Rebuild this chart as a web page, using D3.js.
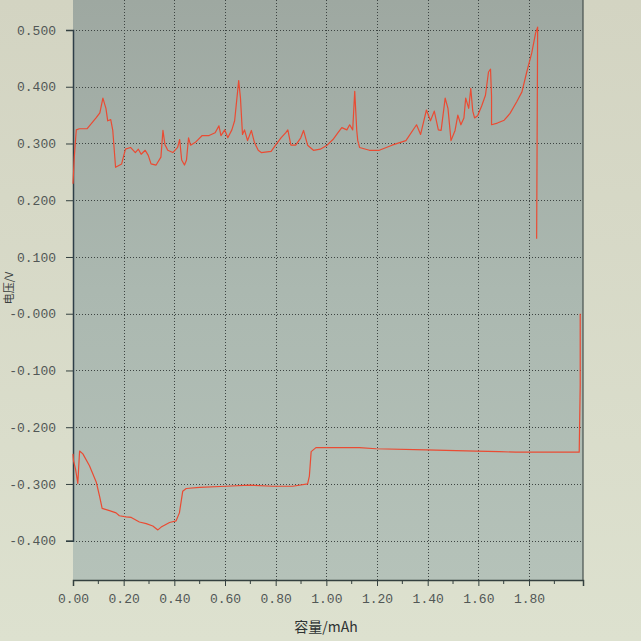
<!DOCTYPE html>
<html><head><meta charset="utf-8">
<script src="https://cdn.jsdelivr.net/npm/d3@7/dist/d3.min.js"></script>
<style>html,body{margin:0;padding:0;background:#d9dbc9;}svg{display:block;}</style>
</head><body>
<script>
// ---- data (capacity mAh, voltage V) ----
const chargeCap = [0.000,0.005,0.013,0.025,0.056,0.091,0.106,0.118,0.130,0.137,0.149,0.157,0.168,0.192,0.207,0.227,0.246,0.258,0.269,0.285,0.297,0.308,0.328,0.347,0.355,0.363,0.374,0.394,0.413,0.421,0.429,0.440,0.448,0.456,0.464,0.483,0.510,0.537,0.561,0.576,0.584,0.599,0.611,0.627,0.638,0.654,0.661,0.669,0.677,0.689,0.704,0.716,0.731,0.743,0.782,0.801,0.821,0.840,0.848,0.860,0.879,0.899,0.910,0.926,0.949,0.976,1.003,1.026,1.046,1.061,1.081,1.092,1.104,1.112,1.120,1.124,1.131,1.170,1.209,1.259,1.314,1.356,1.372,1.395,1.411,1.426,1.442,1.453,1.469,1.480,1.492,1.508,1.519,1.531,1.543,1.550,1.562,1.570,1.578,1.585,1.597,1.613,1.628,1.640,1.648,1.652,1.652,1.675,1.702,1.725,1.752,1.772,1.791,1.811,1.826,1.834,1.830];
const chargeVolt = [0.229,0.276,0.324,0.326,0.326,0.345,0.354,0.380,0.362,0.340,0.342,0.323,0.258,0.264,0.290,0.293,0.284,0.290,0.281,0.288,0.279,0.264,0.262,0.276,0.323,0.298,0.288,0.284,0.293,0.307,0.271,0.262,0.271,0.310,0.297,0.302,0.314,0.314,0.319,0.331,0.314,0.324,0.310,0.324,0.340,0.411,0.380,0.316,0.324,0.305,0.323,0.302,0.288,0.284,0.286,0.298,0.310,0.319,0.324,0.297,0.297,0.310,0.323,0.297,0.288,0.290,0.297,0.307,0.319,0.328,0.324,0.333,0.324,0.392,0.323,0.305,0.293,0.288,0.288,0.297,0.305,0.333,0.316,0.359,0.340,0.357,0.324,0.323,0.380,0.362,0.305,0.323,0.350,0.333,0.345,0.380,0.362,0.397,0.357,0.345,0.349,0.366,0.385,0.426,0.431,0.383,0.333,0.336,0.341,0.353,0.374,0.391,0.426,0.460,0.495,0.505,0.132];
const dischargeCap = [0.000,0.002,0.010,0.019,0.026,0.039,0.065,0.092,0.105,0.115,0.144,0.170,0.183,0.210,0.230,0.262,0.289,0.315,0.335,0.348,0.381,0.407,0.420,0.433,0.447,0.499,0.604,0.696,0.788,0.867,0.926,0.933,0.940,0.959,0.999,1.130,1.196,1.393,1.591,1.682,1.748,1.998,2.002,2.002];
const dischargeVolt = [-0.247,-0.259,-0.274,-0.299,-0.242,-0.247,-0.268,-0.297,-0.322,-0.343,-0.347,-0.351,-0.356,-0.358,-0.359,-0.367,-0.370,-0.374,-0.381,-0.376,-0.368,-0.365,-0.351,-0.313,-0.308,-0.306,-0.304,-0.302,-0.304,-0.304,-0.300,-0.286,-0.243,-0.236,-0.236,-0.236,-0.238,-0.240,-0.242,-0.243,-0.244,-0.244,-0.126,0.000];
const xTicks = [0,0.2,0.4,0.6,0.8,1.0,1.2,1.4,1.6,1.8];
const xTickLabels = ["0.00","0.20","0.40","0.60","0.80","1.00","1.20","1.40","1.60","1.80"];
const xMinorTicks = [0.1,0.3,0.5,0.7,0.9,1.1,1.3,1.5,1.7,1.9];
const yTicks = [0.5,0.4,0.3,0.2,0.1,0,-0.1,-0.2,-0.3,-0.4];
const yTickLabels = ["0.500","0.400","0.300","0.200","0.100","-0.000","-0.100","-0.200","-0.300","-0.400"];
const xTitle = "容量/mAh";
const yTitle = "电压/V";

const W = 641, H = 641;
const L = 73, R = 583, T = 0, B = 580;
const x = d3.scaleLinear().domain([0, 2.013]).range([L, R]);
const y = d3.scaleLinear().domain([-0.4, 0.5]).range([540.7, 30]);

const svg = d3.select("body").append("svg").attr("width", W).attr("height", H);
const defs = svg.append("defs");
const gOut = defs.append("linearGradient").attr("id","gout").attr("x1",0).attr("y1",0).attr("x2",0).attr("y2",1);
gOut.append("stop").attr("offset","0%").attr("stop-color","#d3d4c2");
gOut.append("stop").attr("offset","100%").attr("stop-color","#dde1cf");
const gIn = defs.append("linearGradient").attr("id","gin").attr("x1",0).attr("y1",0).attr("x2",0).attr("y2",1);
gIn.append("stop").attr("offset","0%").attr("stop-color","#9ea8a1");
gIn.append("stop").attr("offset","50%").attr("stop-color","#abb8b0");
gIn.append("stop").attr("offset","100%").attr("stop-color","#b5c2b9");

svg.append("rect").attr("width",W).attr("height",H).attr("fill","url(#gout)");
svg.append("rect").attr("x",L).attr("y",T).attr("width",R-L).attr("height",B-T).attr("fill","url(#gin)");

// grid
const grid = svg.append("g").attr("stroke","#3d4442").attr("stroke-width",1).attr("stroke-dasharray","1,2");
grid.selectAll("line.v").data(xTicks.slice(1)).join("line")
  .attr("x1",d=>Math.round(x(d))+0.5).attr("x2",d=>Math.round(x(d))+0.5).attr("y1",T).attr("y2",B);
grid.selectAll("line.h").data(yTicks).join("line")
  .attr("y1",d=>Math.round(y(d))+0.5).attr("y2",d=>Math.round(y(d))+0.5).attr("x1",L).attr("x2",R);

// axes
const tickFont = "'Liberation Mono', 'DejaVu Sans Mono', monospace";
const xAxis = d3.axisBottom(x).tickValues(xTicks).tickSize(6).tickFormat((d,i)=>xTickLabels[i]);
const gx = svg.append("g").attr("transform",`translate(0,${B})`).call(xAxis);
gx.select(".domain").attr("stroke","#34403f").attr("stroke-width",1.5);
gx.selectAll(".tick line").attr("stroke","#34403f");
gx.selectAll(".tick text").attr("fill","#515756").attr("font-family",tickFont).attr("font-size",13).attr("dy","1.05em");
svg.append("g").selectAll("line").data(xMinorTicks).join("line")
  .attr("x1",d=>x(d)).attr("x2",d=>x(d)).attr("y1",B).attr("y2",B+4).attr("stroke","#34403f");

const yAxis = d3.axisLeft(y).tickValues(yTicks).tickSize(7).tickPadding(10).tickFormat((d,i)=>yTickLabels[i]);
const gy = svg.append("g").attr("transform",`translate(${L},0)`).call(yAxis);
gy.select(".domain").attr("stroke","#2f3f48").attr("stroke-width",1.5);
gy.selectAll(".tick line").attr("stroke","#34403f");
gy.selectAll(".tick text").attr("fill","#515756").attr("font-family",tickFont).attr("font-size",13);

// right border
svg.append("line").attr("x1",R).attr("x2",R).attr("y1",T).attr("y2",B).attr("stroke","#46504e").attr("stroke-width",1.2);

// curves
const line = d3.line().x(d=>x(d[0])).y(d=>y(d[1]));
const charge = chargeCap.map((c,i)=>[c, chargeVolt[i]]);
const discharge = dischargeCap.map((c,i)=>[c, dischargeVolt[i]]);
svg.append("path").datum(charge).attr("d",line).attr("fill","none").attr("stroke","#ea4b33").attr("stroke-width",1.2).attr("stroke-linejoin","round");
svg.append("path").datum(discharge).attr("d",line).attr("fill","none").attr("stroke","#ea4b33").attr("stroke-width",1.2).attr("stroke-linejoin","round");

// titles
svg.append("text").attr("x",326).attr("y",632).attr("text-anchor","middle")
  .attr("font-family","'Noto Sans CJK SC', sans-serif").attr("font-size",14).attr("fill","#2e3333").text(xTitle);
svg.append("text").attr("transform","translate(13,288) rotate(-90)").attr("text-anchor","middle")
  .attr("font-family","'Noto Sans CJK SC', sans-serif").attr("font-size",11).attr("fill","#3a3f3e").text(yTitle);
</script>
</body></html>
